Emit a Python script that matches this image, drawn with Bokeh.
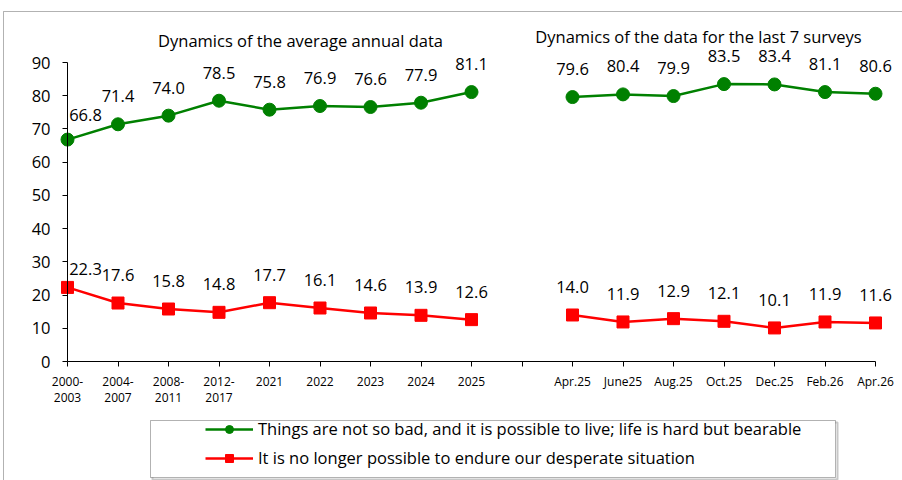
import numpy as np
from bokeh.plotting import figure
from bokeh.models import (Range1d, FixedTicker, ColumnDataSource, LabelSet, Label,
                          Legend, LegendItem, BoxAnnotation)
from bokeh.core.properties import value
from bokeh.embed import file_html
from bokeh.resources import INLINE

# ---- data ----
categories = ["2000-\n2003", "2004-\n2007", "2008-\n2011", "2012-\n2017", "2021", "2022",
              "2023", "2024", "2025", "", "Apr.25", "June25", "Aug.25", "Oct.25",
              "Dec.25", "Feb.26", "Apr.26"]
bearable = [66.8, 71.4, 74.0, 78.5, 75.8, 76.9, 76.6, 77.9, 81.1, None,
            79.6, 80.4, 79.9, 83.5, 83.4, 81.1, 80.6]
desperate = [22.3, 17.6, 15.8, 14.8, 17.7, 16.1, 14.6, 13.9, 12.6, None,
             14.0, 11.9, 12.9, 12.1, 10.1, 11.9, 11.6]
y_ticks = [0, 10, 20, 30, 40, 50, 60, 70, 80, 90]
title_left = "Dynamics of the average annual data"
title_right = "Dynamics of the data for the last 7 surveys"
legend_green = "Things are not so bad, and it is possible to live; life is hard but bearable"
legend_red = "It is no longer possible to endure our desperate situation"

GREEN = "#008000"
RED = "#FF0000"
FONT = "Open Sans"

n = len(categories)
xs = np.arange(n)
g = np.array([np.nan if v is None else v for v in bearable], dtype=float)
r = np.array([np.nan if v is None else v for v in desperate], dtype=float)
src = ColumnDataSource(dict(x=xs, g=g, r=r))

W, H = 902, 480
# pixel layout of the plot area: first category at px 67, last at 875; value 0 at px 361, 90 at px 62
PX_LEFT, PX_RIGHT, PX_ZERO, PX_TOP = 67, 875, 361, 62
px_per_x = (PX_RIGHT - PX_LEFT) / (n - 1)
px_per_y = (PX_ZERO - PX_TOP) / 90
x0 = -PX_LEFT / px_per_x
x1 = x0 + W / px_per_x
y1 = PX_ZERO / px_per_y
y0 = y1 - H / px_per_y


def sx(px):
    return x0 + px / px_per_x


def sy(py):
    return y1 - py / px_per_y


p = figure(width=W, height=H, output_backend="svg", toolbar_location=None, title=None,
           x_range=Range1d(x0, x1), y_range=Range1d(y0, y1),
           min_border=0, min_border_left=0, min_border_right=0,
           min_border_top=0, min_border_bottom=0)
p.outline_line_color = None
p.xgrid.visible = False
p.ygrid.visible = False

# axes
xa = p.xaxis[0]
xa.ticker = FixedTicker(ticks=list(range(n)))
xa.major_label_overrides = {i: (c if c else " ") for i, c in enumerate(categories)}
xa.fixed_location = 0
xa.bounds = (0, n - 1)
xa.major_tick_out = 5
xa.major_tick_in = 0
xa.minor_tick_line_color = None
xa.major_label_text_font = FONT
xa.major_label_text_font_size = "12px"
xa.major_label_text_color = "black"
xa.major_label_text_line_height = 0.98
xa.major_label_standoff = 6
xa.axis_line_color = "black"
xa.major_tick_line_color = "black"

ya = p.yaxis[0]
ya.ticker = FixedTicker(ticks=y_ticks)
ya.fixed_location = 0
ya.bounds = (0, 90)
ya.major_tick_out = 5
ya.major_tick_in = 0
ya.minor_tick_line_color = None
ya.major_label_text_font = FONT
ya.major_label_text_font_size = "16.5px"
ya.major_label_text_color = "black"
ya.major_label_standoff = 12
ya.axis_line_color = "black"
ya.major_tick_line_color = "black"

# outer chart border (only top and left edges fall inside the picture)
p.add_layout(BoxAnnotation(left=sx(3), top=sy(11), right=sx(W + 20), bottom=sy(H + 20),
                           fill_alpha=0, line_color="black", line_width=1))

# series
gl = p.line("x", "g", source=src, color=GREEN, line_width=2.5)
gs = p.scatter("x", "g", source=src, marker="circle", size=13, fill_color=GREEN, line_color=GREEN)
rl = p.line("x", "r", source=src, color=RED, line_width=2.5)
rs = p.scatter("x", "r", source=src, marker="square", size=12, fill_color=RED, line_color=RED)


# data labels
def label_source(vals, first_off):
    xx, yy, tt, dx, dy = [], [], [], [], []
    for i, v in enumerate(vals):
        if v is None:
            continue
        xx.append(i); yy.append(v); tt.append(f"{v:.1f}")
        if i == 0:
            dx.append(first_off[0]); dy.append(first_off[1])
        else:
            dx.append(0); dy.append(28)
    return ColumnDataSource(dict(x=xx, y=yy, t=tt, dx=dx, dy=dy))


for vals, off in ((bearable, (18, 25)), (desperate, (18, 18))):
    ls = LabelSet(x="x", y="y", text="t", x_offset="dx", y_offset="dy",
                  source=label_source(vals, off), text_align="center",
                  text_baseline="middle", text_font=value(FONT), text_font_size="16.5px",
                  text_color="black")
    p.add_layout(ls)

# panel titles
p.add_layout(Label(x=sx(300), y=sy(40), text=title_left,
                   text_align="center", text_baseline="middle", text_font=FONT,
                   text_font_size="16.5px", text_color="black"))
p.add_layout(Label(x=sx(698), y=sy(36), text=title_right,
                   text_align="center", text_baseline="middle", text_font=FONT,
                   text_font_size="16.5px", text_color="black"))

# legend frame with shadow
p.add_layout(BoxAnnotation(left=sx(152), right=sx(837), top=sy(422), bottom=sy(479),
                           fill_alpha=0, line_color="#444444", line_width=2))
p.add_layout(BoxAnnotation(left=sx(150), right=sx(835), top=sy(420), bottom=sy(477),
                           fill_color="white", fill_alpha=1, line_color="black", line_width=1))

legend = Legend(items=[LegendItem(label=legend_green, renderers=[gl, gs]),
                       LegendItem(label=legend_red, renderers=[rl, rs])],
                location=(203, 9), glyph_width=48, glyph_height=20,
                label_standoff=5, spacing=6, padding=2, margin=0,
                label_text_font=FONT, label_text_font_size="16.5px",
                label_text_color="black", border_line_alpha=0,
                background_fill_alpha=0)
p.add_layout(legend)

open("out.html", "w").write(file_html(p, INLINE))
